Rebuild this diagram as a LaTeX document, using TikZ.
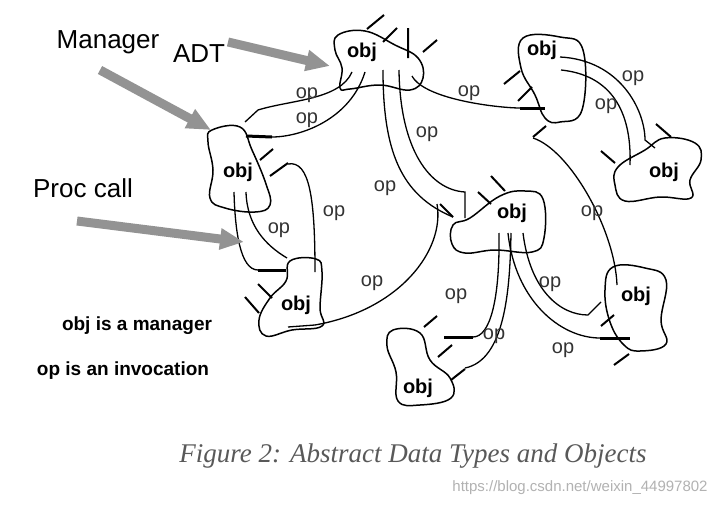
\documentclass[tikz,border=0pt]{standalone}
\usepackage{fontspec}
\setmainfont{Liberation Sans}
\newfontfamily\capfont{Liberation Serif}
\usetikzlibrary{arrows.meta}
\begin{document}
\begin{tikzpicture}[x=1pt,y=-1pt,line width=1.3pt,
  blob/.style={draw,line width=1.5pt},
  obj/.style={font=\fontsize{20}{20}\selectfont\bfseries},
  op/.style={font=\fontsize{20}{20}\selectfont, text=black!80},
  conn/.style={draw,line width=1.3pt},
  stub/.style={draw,line width=2pt},
  thk/.style={draw,line width=3pt},
  big/.style={draw=gray!85,line width=9pt,-{Triangle[width=20pt,length=24pt]}},
  lbl/.style={font=\fontsize{26}{26}\selectfont},
  note/.style={font=\fontsize{19}{19}\selectfont\bfseries}]
\useasboundingbox (0,0) rectangle (726,506);
\fill[white] (0,0) rectangle (726,506);
% blobs
\draw[blob] plot[smooth cycle,tension=0.7] coordinates {(338,35) (365,31) (395,45) (418,58) (423,78) (410,90) (380,85) (350,89) (340,88) (342,68) (335,50)};
\node[obj] (A) at (362,52) {obj};
\draw[blob] plot[smooth cycle,tension=0.7] coordinates {(212,130) (240,127) (252,150) (266,184) (270,205) (255,212) (225,208) (210,198) (213,170) (208,142)};
\node[obj] (B) at (238,172) {obj};
\draw[blob] plot[smooth cycle,tension=0.7] coordinates {(290,261) (316,259) (322,272) (320,308) (322,326) (292,330) (266,336) (259,320) (270,298) (286,281)};
\node[obj] (C) at (296,305) {obj};
\draw[blob] plot[smooth cycle,tension=0.7] coordinates {(470,218) (500,196) (525,191) (543,199) (544,238) (532,252) (495,250) (465,253) (452,244) (453,225)};
\node[obj] (D) at (512,213) {obj};
\draw[blob] plot[smooth cycle,tension=0.7] coordinates {(393,330) (420,333) (430,360) (450,378) (451,398) (420,405) (398,401) (396,372) (387,346)};
\node[obj] (E) at (418,388) {obj};
\draw[blob] plot[smooth cycle,tension=0.7] coordinates {(613,267) (645,268) (666,280) (661,320) (666,344) (640,351) (624,345) (610,322) (605,290)};
\node[obj] (F) at (636,296) {obj};
\draw[blob] plot[smooth cycle,tension=0.7] coordinates {(523,38) (560,37) (583,50) (582,110) (560,122) (545,118) (535,95) (521,68)};
\node[obj] (G) at (542,50) {obj};
\draw[blob] plot[smooth cycle,tension=0.7] coordinates {(618,167) (645,150) (665,138) (695,143) (701,160) (690,180) (691,198) (660,197) (625,201) (615,185)};
\node[obj] (H) at (664,172) {obj};
% stubs
\path[stub] (367,29)--(384,15) (383,42)--(397,28) (408,28)--(408,58) (423,52)--(437,40);
\path[stub] (260,160)--(273,149) (270,176)--(288,163);
\path[stub] (258,284)--(272,298) (245,297)--(259,313);
\path[stub] (440,204)--(453,217) (478,192)--(491,204) (491,176)--(505,191);
\path[stub] (424,327)--(437,316) (438,357)--(452,345) (451,380)--(465,369);
\path[stub] (601,326)--(614,315) (614,365)--(629,354);
\path[stub] (504,84)--(520,71) (518,101)--(532,87);
\path[stub] (656,124)--(671,137) (601,151)--(615,163);
\path[stub] (533,137)--(546,126);
% connectors
\path[conn] (352,72) .. controls (340,100) and (290,100) .. (258,110) -- (245,122);
\path[conn] (365,72) .. controls (350,120) and (300,137) .. (272,137);
\path[thk] (272,137) -- (246,136);
\path[conn] (383,70) .. controls (383,150) and (400,195) .. (453,217);
\path[conn] (399,70) .. controls (400,150) and (430,190) .. (465,192) -- (465,218);
\path[conn] (412,76) .. controls (425,100) and (500,108) .. (520,108);
\path[thk] (520,108) -- (545,108);
\path[conn] (234,192) .. controls (235,230) and (240,270) .. (258,270);
\path[thk] (258,270) -- (286,270);
\path[conn] (246,192) .. controls (247,225) and (265,245) .. (287,258);
\path[conn] (288,164) .. controls (310,160) and (315,200) .. (315,272);
\path[conn] (288,327) -- (315,325) .. controls (400,310) and (445,250) .. (437,204);
\path[conn] (499,233) .. controls (500,300) and (490,337) .. (473,337);
\path[thk] (473,337) -- (444,337);
\path[conn] (511,233) .. controls (510,290) and (505,360) .. (465,368);
\path[conn] (508,233) .. controls (515,300) and (560,338) .. (600,338);
\path[thk] (600,338) -- (630,338);
\path[conn] (523,233) .. controls (530,290) and (560,315) .. (588,315) -- (601,302);
\path[conn] (533,138) .. controls (570,150) and (615,230) .. (617,285);
\path[conn] (560,57) .. controls (620,60) and (645,110) .. (645,140) -- (655,148);
\path[conn] (561,70) .. controls (610,75) and (632,110) .. (630,165);
% op labels
\foreach \p in {(307,95),(307,120),(427,134),(385,188),(469,93),(633,78),(606,106),(592,213),(334,213),(279,230),(372,283),(456,296),(494,336),(550,284),(563,350)}
  \node[op] at \p {op};
% gray arrows
\path[big] (228,42) -- (330,66);
\path[big] (100,70) -- (211,130);
\path[big] (77,221) -- (244,242);
% texts
\node[lbl] (m) at (108,42) {Manager};
\node[lbl] (adt) at (199,54) {ADT};
\node[lbl] (pc) at (83,188) {Proc call};
\node[note] (n1) at (137,326) {obj is a manager};
\node[note] (n2) at (123,371) {op is an invocation};
\node[font=\capfont\itshape\fontsize{27}{27}\selectfont,text=black!65] (cap) at (413,456) {Figure 2: Abstract Data Types and Objects};
\node[font=\fontsize{15}{15}\selectfont,text=black!30] (wm) at (580,488) {https://blog.csdn.net/weixin\_44997802};
\end{tikzpicture}
\end{document}
